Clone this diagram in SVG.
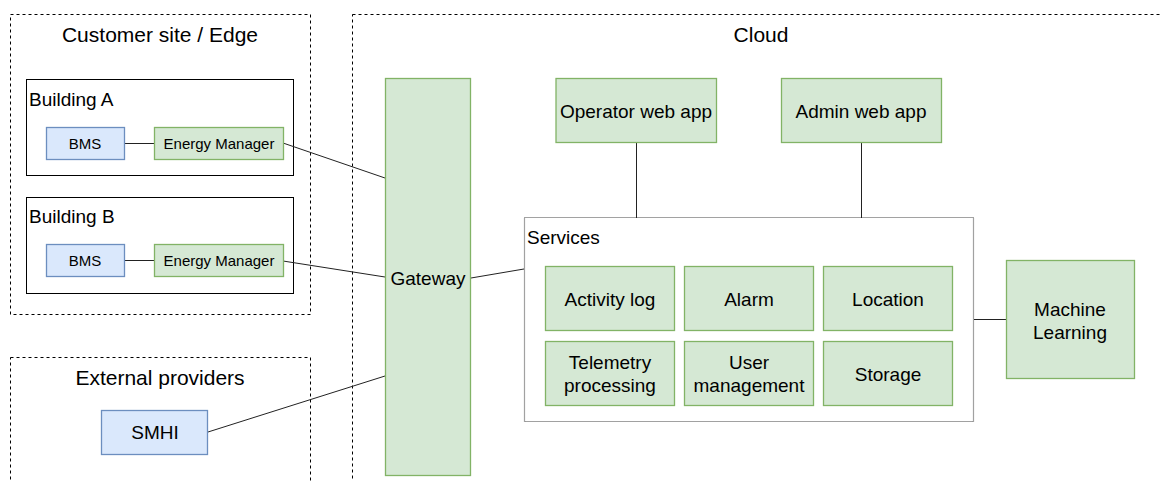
<svg xmlns="http://www.w3.org/2000/svg" width="1160" height="481" viewBox="0 0 1160 481">
<style>
text{font-family:"Liberation Sans",Arial,sans-serif;fill:#000}
.zone{fill:none;stroke:#000;stroke-width:1;stroke-dasharray:3 3}
.bld{fill:#fff;stroke:#000;stroke-width:1}
.g{fill:#d5e8d4;stroke:#82b366;stroke-width:1.3}
.b{fill:#dae8fc;stroke:#6c8ebf;stroke-width:1.3}
.svc{fill:#fff;stroke:#444;stroke-width:1.2;stroke-dasharray:1 1}
.t21{font-size:21px}
.t19{font-size:19px}
.t15{font-size:15px}
.c{text-anchor:middle}
.conn line{stroke:#222;stroke-width:1}
</style>
<rect width="1160" height="481" fill="#fff"/>
<g id="zone-customer"><rect class="zone" x="10.5" y="14.5" width="300" height="300"/><text class="t21 c" x="160" y="42">Customer site / Edge</text></g>
<g id="zone-cloud"><rect class="zone" x="352.5" y="14.5" width="830" height="500"/><text class="t21 c" x="761" y="42">Cloud</text></g>
<g id="zone-external"><rect class="zone" x="10.5" y="357.5" width="300" height="160"/><text class="t21 c" x="160" y="385">External providers</text></g>
<g id="building-a"><rect class="bld" x="26.5" y="79.5" width="267" height="96"/><text class="t19" x="29" y="106">Building A</text></g>
<g id="building-b"><rect class="bld" x="26.5" y="197.5" width="267" height="96"/><text class="t19" x="29" y="223">Building B</text></g>
<g id="services"><rect class="svc" x="524.5" y="217.5" width="449" height="204"/><text class="t19" x="527" y="244">Services</text></g>
<g class="conn" id="connectors">
<line x1="124" y1="143.5" x2="154" y2="143.5"/>
<line x1="124" y1="260.5" x2="154" y2="260.5"/>
<line x1="283" y1="143" x2="385" y2="178"/>
<line x1="283" y1="261" x2="385" y2="277"/>
<line x1="208" y1="432" x2="385" y2="376"/>
<line x1="471" y1="278" x2="524" y2="269"/>
<line x1="636.5" y1="143" x2="636.5" y2="218"/>
<line x1="861.5" y1="143" x2="861.5" y2="218"/>
<line x1="974" y1="319.5" x2="1006" y2="319.5"/>
</g>
<g id="bms-a"><rect class="b" x="46.5" y="127.5" width="78" height="32"/><text class="t15 c" x="85" y="149">BMS</text></g>
<g id="em-a"><rect class="g" x="154.5" y="127.5" width="129" height="32"/><text class="t15 c" x="219" y="149">Energy Manager</text></g>
<g id="bms-b"><rect class="b" x="46.5" y="244.5" width="78" height="32"/><text class="t15 c" x="85" y="266">BMS</text></g>
<g id="em-b"><rect class="g" x="154.5" y="244.5" width="129" height="32"/><text class="t15 c" x="219" y="266">Energy Manager</text></g>
<g id="smhi"><rect class="b" x="101.5" y="410.5" width="106" height="44"/><text class="t19 c" x="155" y="439">SMHI</text></g>
<g id="gateway"><rect class="g" x="385.5" y="78.5" width="85" height="397"/><text class="t19 c" x="428" y="285">Gateway</text></g>
<g id="operator-web-app"><rect class="g" x="556" y="78.5" width="160.5" height="64"/><text class="t19 c" x="636" y="118">Operator web app</text></g>
<g id="admin-web-app"><rect class="g" x="781.5" y="78.5" width="160" height="64"/><text class="t19 c" x="861" y="118">Admin web app</text></g>
<g id="activity-log"><rect class="g" x="545.5" y="266.5" width="129" height="64"/><text class="t19 c" x="610" y="305.5">Activity log</text></g>
<g id="alarm"><rect class="g" x="684.5" y="266.5" width="129" height="64"/><text class="t19 c" x="749" y="305.5">Alarm</text></g>
<g id="location"><rect class="g" x="823.5" y="266.5" width="129" height="64"/><text class="t19 c" x="888" y="305.5">Location</text></g>
<g id="telemetry"><rect class="g" x="545.5" y="341.5" width="129" height="64"/><text class="t19 c" x="610" y="369">Telemetry</text><text class="t19 c" x="610" y="391.5">processing</text></g>
<g id="user-management"><rect class="g" x="684.5" y="341.5" width="129" height="64"/><text class="t19 c" x="749" y="369">User</text><text class="t19 c" x="749" y="391.5">management</text></g>
<g id="storage"><rect class="g" x="823.5" y="341.5" width="129" height="64"/><text class="t19 c" x="888" y="380.5">Storage</text></g>
<g id="machine-learning"><rect class="g" x="1006.5" y="260.5" width="128" height="118"/><text class="t19 c" x="1070" y="316">Machine</text><text class="t19 c" x="1070" y="338.5">Learning</text></g>
</svg>
